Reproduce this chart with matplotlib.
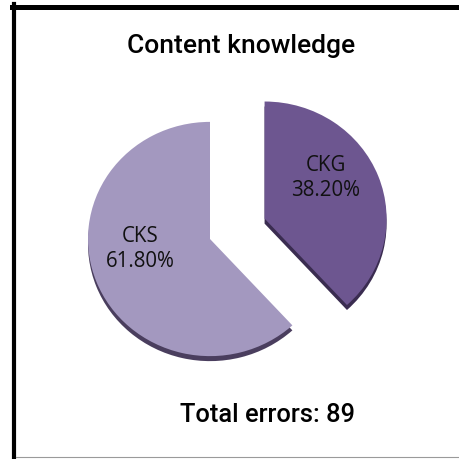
import matplotlib
matplotlib.use("Agg")
import matplotlib.pyplot as plt
from matplotlib.lines import Line2D

# Data (drawn clockwise from 12 o'clock)
categories = ["CKG", "CKS"]
shares = [38.20, 61.80]
title_text = "Content knowledge"
total_errors = 89

colors = ["#6D5690", "#A398BF"]
edge_colors = ["#3A2C50", "#4A3E5E"]

W = H = 459
DPI = 100
fig = plt.figure(figsize=(W / DPI, H / DPI), dpi=DPI)
fig.patch.set_facecolor("white")

# Axes span the whole figure; x in pixels, y squashed slightly for a tilted look
squash = 0.96
ax = fig.add_axes([0, 0, 1, 1])


def py(p):
    """Pixel row (from top) to data y."""
    return (H - p) / squash


center = (210, py(239))
radius = 122
explode = [0.48 * radius, 0.0]
depth = 5 / squash

# Slice thickness: darker copy shifted down
ax.pie(shares, colors=edge_colors, startangle=90, counterclock=False,
       radius=radius, center=(center[0], center[1] - depth), explode=explode,
       wedgeprops=dict(linewidth=0), frame=True)
ax.pie(shares, colors=colors, startangle=90, counterclock=False,
       radius=radius, center=center, explode=explode,
       wedgeprops=dict(linewidth=0), frame=True)

ax.set_xlim(0, W)
ax.set_ylim(0, H / squash)
ax.set_aspect("auto")
ax.axis("off")

label_font = dict(family=["Open Sans", "DejaVu Sans"], size=14.8, color="#111111")
label_pos = {"CKS": (140, 249), "CKG": (326, 178)}
for name, val in zip(categories, shares):
    x, y = label_pos[name]
    ax.text(x, py(y), f"{name}\n{val:.2f}%", ha="center", va="center",
            linespacing=1.2, **label_font)

head_font = dict(family=["Roboto", "DejaVu Sans"], weight="medium", color="black")
fig.text(241 / W, 1 - 53 / H, title_text, ha="center", va="baseline",
         size=19, **head_font)
fig.text(267 / W, 1 - 422 / H, f"Total errors: {total_errors}", ha="center",
         va="baseline", size=18.4, **head_font)

# Frame: heavy left and top rules, thin grey bottom rule
fig.add_artist(Line2D([14 / W, 14 / W], [0, 1 - 4 / H], color="black",
                      linewidth=3.0, transform=fig.transFigure))
fig.add_artist(Line2D([12 / W, 1], [1 - 6.5 / H, 1 - 6.5 / H], color="black",
                      linewidth=3.6, transform=fig.transFigure))
fig.add_artist(Line2D([16 / W, 1], [1 - 457 / H, 1 - 457 / H], color="#9a9a9a",
                      linewidth=0.8, transform=fig.transFigure))

fig.savefig("out.png", dpi=DPI)
